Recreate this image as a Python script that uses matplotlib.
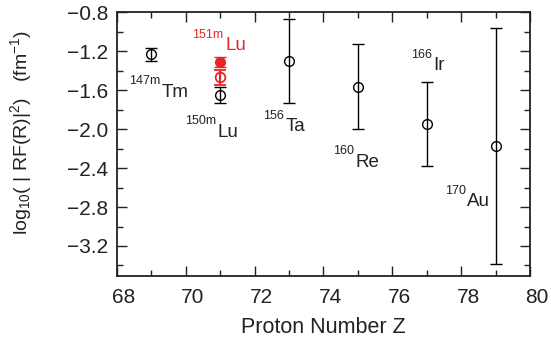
import matplotlib
matplotlib.use("Agg")
import matplotlib.pyplot as plt
from matplotlib.ticker import MultipleLocator
from matplotlib.transforms import ScaledTranslation

plt.rcParams['font.family'] = ['Liberation Sans', 'DejaVu Sans']
plt.rcParams['mathtext.fontset'] = 'custom'
plt.rcParams['mathtext.rm'] = 'Liberation Sans'
plt.rcParams['mathtext.it'] = 'Liberation Sans:italic'
plt.rcParams['mathtext.bf'] = 'Liberation Sans:bold'

# Data (black open circles)
z_black = [69, 71, 73, 75, 77, 79]
y_black = [-1.231, -1.65, -1.30, -1.563, -1.946, -2.17]
e_black = [0.065, 0.085, 0.435, 0.433, 0.433, 1.21]

# 151mLu (red)
z_red = [71]
y_red_open = [-1.469]
e_red_open = [0.075]
y_red_fill = [-1.307]
e_red_fill = [0.05]

# Labels: (mass superscript, element, x, baseline y, colour)
lab_mass = ['147m', '151m', '150m', '156', '160', '166', '170']
lab_elem = ['Tm', 'Lu', 'Lu', 'Ta', 'Re', 'Ir', 'Au']
lab_x = [69.30, 71.14, 70.92, 72.89, 74.92, 77.18, 78.17]
lab_y = [-1.666, -1.187, -2.076, -2.024, -2.384, -1.392, -2.794]
lab_col = ['#222222', '#e8262a', '#222222', '#222222', '#222222', '#222222', '#222222']

red = '#e8262a'

fig = plt.figure(figsize=(5.51, 3.47), dpi=100)
ax = fig.add_axes([0.2122, 0.2055, 0.7498, 0.7590])

ax.errorbar(z_black, y_black, yerr=e_black, fmt='o', mfc='none', mec='black',
            ms=7, mew=1.0, ecolor='black', elinewidth=1.0, capsize=4.5, capthick=1.0, zorder=3)
ax.errorbar(z_red, y_red_open, yerr=e_red_open, fmt='o', mfc='none', mec=red,
            ms=7, mew=1.3, ecolor=red, elinewidth=1.6, capsize=4.5, capthick=1.6, zorder=4)
ax.errorbar(z_red, y_red_fill, yerr=e_red_fill, fmt='o', mfc=red, mec=red,
            ms=7, mew=1.0, ecolor=red, elinewidth=1.6, capsize=4.5, capthick=1.6, zorder=5)

for m, el, x, y, c in zip(lab_mass, lab_elem, lab_x, lab_y, lab_col):
    ax.text(x, y, el, fontsize=13.5, color=c, ha='left', va='baseline')
    ax.annotate(m, xy=(x, y), xytext=(-1, 8.8), textcoords='offset points',
                fontsize=9, color=c, ha='right', va='baseline')

ax.set_xlim(68, 80)
ax.set_ylim(-3.505, -0.8)
ax.xaxis.set_major_locator(MultipleLocator(2))
ax.xaxis.set_minor_locator(MultipleLocator(1))
ax.yaxis.set_major_locator(MultipleLocator(0.4))
ax.yaxis.set_minor_locator(MultipleLocator(0.2))
ax.set_yticks([-0.8, -1.2, -1.6, -2.0, -2.4, -2.8, -3.2])
ax.set_yticklabels(['\u22120.8', '\u22121.2', '\u22121.6', '\u22122.0', '\u22122.4', '\u22122.8', '\u22123.2'])

ax.tick_params(which='both', direction='in', top=True, right=True, color='#222222')
ax.tick_params(which='major', length=7, width=1.0)
ax.tick_params(which='minor', length=4, width=1.0)
ax.tick_params(axis='x', which='major', labelsize=15, pad=9, labelcolor='#222222')
ax.tick_params(axis='y', which='major', labelsize=15, pad=6, labelcolor='#222222')
for sp in ax.spines.values():
    sp.set_linewidth(1.3)
    sp.set_color('#222222')

for lab in ax.get_xticklabels():
    lab.set_transform(lab.get_transform() + ScaledTranslation(5 / 72, 0, fig.dpi_scale_trans))

ax.set_xlabel('Proton Number Z', fontsize=15.5, color='#222222', labelpad=7)
ax.set_ylabel(r'log$_{10}$( | RF(R)|$^2$)   (fm$^{-1}$)', fontsize=14, color='#222222')
ax.yaxis.set_label_coords(-0.2, 0.545)

fig.savefig('out.png', dpi=100)
